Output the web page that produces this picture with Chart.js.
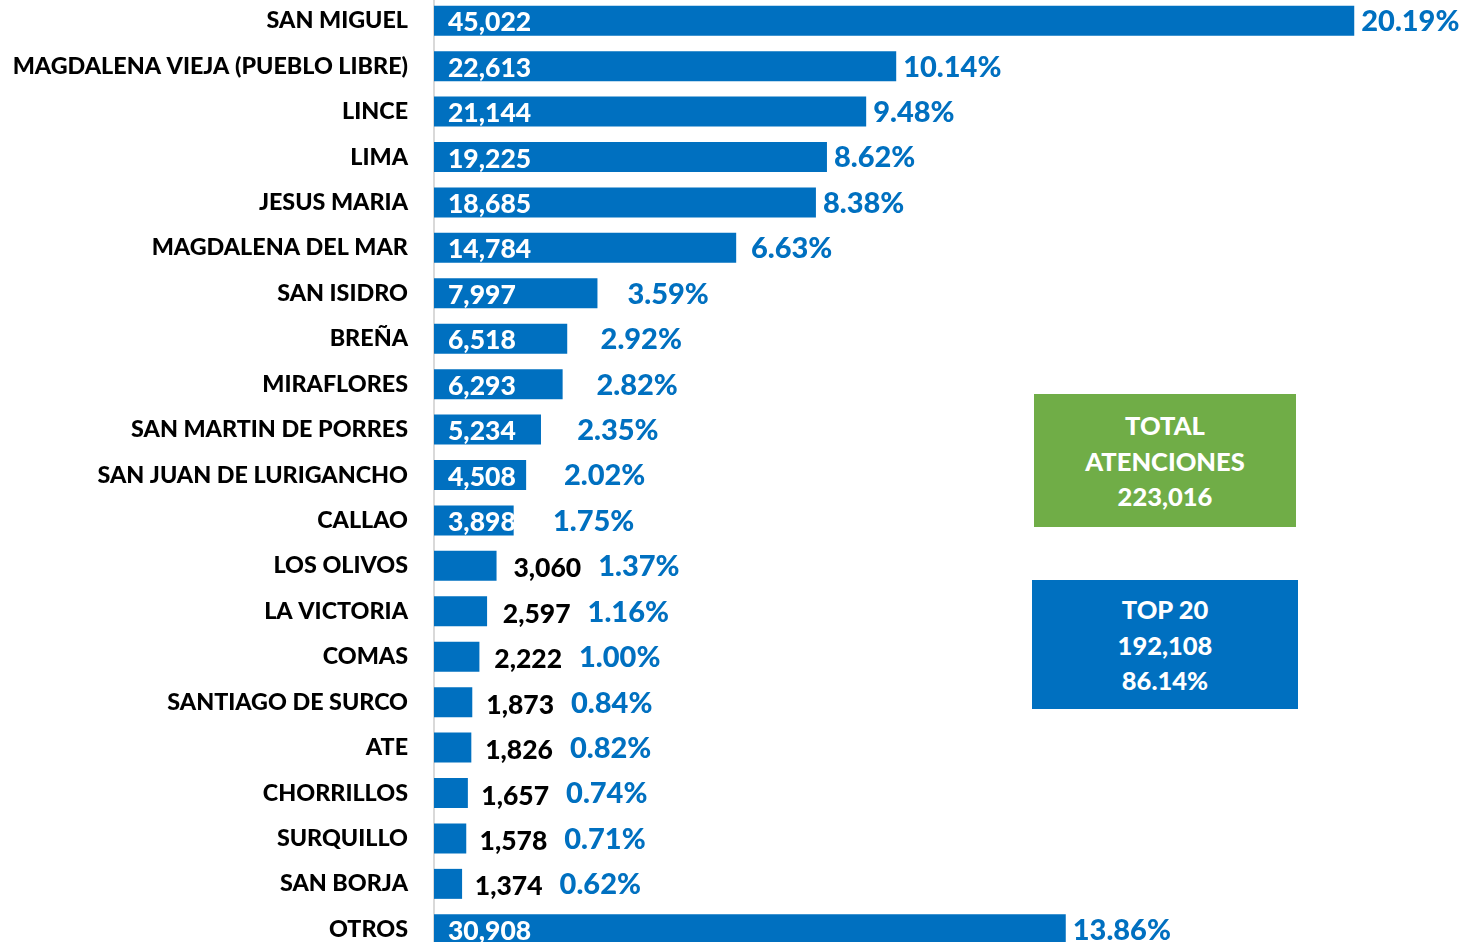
<!DOCTYPE html>
<html>
<head>
<meta charset="utf-8">
<script src="https://cdn.jsdelivr.net/npm/chart.js@4.4.1/dist/chart.umd.min.js"></script>
<style>
  html, body { margin: 0; padding: 0; background: #fff; overflow: hidden; }
  #chart { position: absolute; left: 0; top: -2px; }
  .box { position: absolute; color: #fff; font-family: Lato, sans-serif; font-weight: 900;
         font-size: 25.5px; text-align: center; line-height: 35.5px; box-sizing: border-box; }
  #total { left: 1034px; top: 394px; width: 262px; height: 133px; background: #70AD47; padding-top: 14px; }
  #top20 { left: 1032px; top: 580px; width: 266px; height: 129px; background: #0070C0; padding-top: 12px; }
</style>
</head>
<body>
<canvas id="chart" width="1461" height="954"></canvas>
<div class="box" id="total">TOTAL<br>ATENCIONES<br>223,016</div>
<div class="box" id="top20">TOP 20<br>192,108<br>86.14%</div>
<script>
const districts = ['SAN MIGUEL', 'MAGDALENA VIEJA (PUEBLO LIBRE)', 'LINCE', 'LIMA', 'JESUS MARIA',
    'MAGDALENA DEL MAR', 'SAN ISIDRO', 'BREÑA', 'MIRAFLORES', 'SAN MARTIN DE PORRES',
    'SAN JUAN DE LURIGANCHO', 'CALLAO', 'LOS OLIVOS', 'LA VICTORIA', 'COMAS',
    'SANTIAGO DE SURCO', 'ATE', 'CHORRILLOS', 'SURQUILLO', 'SAN BORJA', 'OTROS'];
const atenciones = [45022, 22613, 21144, 19225, 18685, 14784, 7997, 6518, 6293, 5234,
    4508, 3898, 3060, 2597, 2222, 1873, 1826, 1657, 1578, 1374, 30908];
const porcentajes = ['20.19%', '10.14%', '9.48%', '8.62%', '8.38%', '6.63%', '3.59%', '2.92%',
    '2.82%', '2.35%', '2.02%', '1.75%', '1.37%', '1.16%', '1.00%', '0.84%', '0.82%', '0.74%',
    '0.71%', '0.62%', '13.86%'];

const BLUE = '#0070C0';
const FONT = 'Lato, sans-serif';

// draws the value and percentage labels next to each bar
const barLabels = {
    id: 'barLabels',
    afterDatasetsDraw(chart) {
        const ctx = chart.ctx;
        const meta = chart.getDatasetMeta(0);
        ctx.save();
        ctx.textBaseline = 'middle';
        ctx.textAlign = 'left';
        meta.data.forEach((bar, i) => {
            const value = atenciones[i].toLocaleString('en-US');
            const w = bar.x - bar.base;
            let pctX;
            ctx.font = '900 26.5px ' + FONT;
            if (atenciones[i] >= 3500) {
                ctx.fillStyle = '#fff';
                ctx.fillText(value, bar.base + 14, bar.y + 2);
                const off = Math.min(45, Math.max(7, 48 - w * 0.11));
                pctX = bar.x + off;
            } else {
                ctx.fillStyle = '#000';
                const vx = bar.x + 13 + (w - 30) * 0.12;
                ctx.fillText(value, vx, bar.y + 3);
                pctX = vx + ctx.measureText(value).width + 17;
            }
            ctx.font = '900 29px ' + FONT;
            ctx.fillStyle = BLUE;
            ctx.fillText(porcentajes[i], pctX, bar.y + 1);
        });
        ctx.restore();
    }
};

new Chart(document.getElementById('chart'), {
    type: 'bar',
    data: {
        labels: districts,
        datasets: [{
            data: atenciones,
            backgroundColor: BLUE,
            barPercentage: 0.66,
            categoryPercentage: 1.0
        }]
    },
    options: {
        indexAxis: 'y',
        responsive: false,
        animation: false,
        layout: { padding: { right: 5, top: 0, bottom: 0, left: 0 } },
        plugins: { legend: { display: false }, tooltip: { enabled: false } },
        scales: {
            x: { display: false, min: 0, max: 50000 },
            y: {
                afterFit(scale) {
                    scale.width = 434;
                    scale.paddingTop = 0;
                    scale.paddingBottom = 0;
                },
                grid: { display: false, drawTicks: false },
                border: { display: true, color: '#D9D9D9', width: 2 },
                ticks: {
                    color: '#000',
                    padding: 26,
                    autoSkip: false,
                    font: { family: FONT, weight: 900, size: 23.3 }
                }
            }
        }
    },
    plugins: [barLabels]
});
</script>
</body>
</html>
